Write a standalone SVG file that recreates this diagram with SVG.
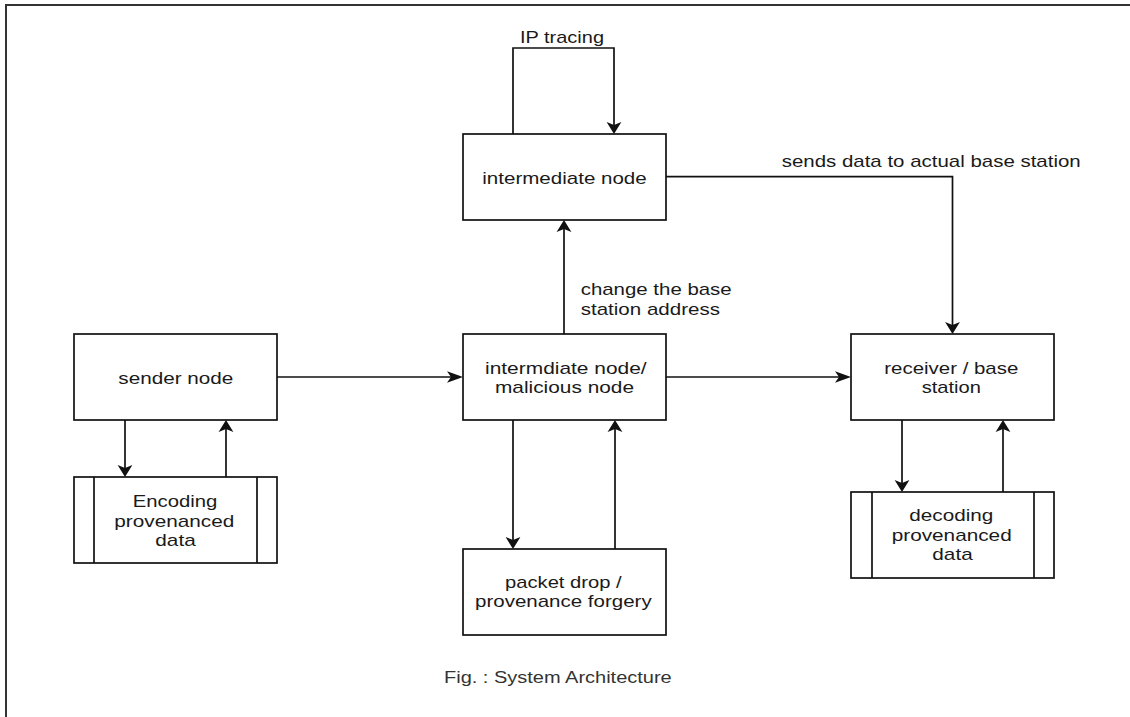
<svg xmlns="http://www.w3.org/2000/svg" width="1130" height="717" viewBox="0 0 1130 717">
<style>
.box{fill:#fff;stroke:#111;stroke-width:1.7}
.ln{fill:none;stroke:#111;stroke-width:1.7}
.t{font-family:"Liberation Sans",Arial,sans-serif;font-size:17px;fill:#1a1a1a}
.cap{font-family:"Liberation Sans",Arial,sans-serif;font-size:16px;fill:#333}
</style>
<defs>
<marker id="ah" markerUnits="userSpaceOnUse" markerWidth="16" markerHeight="12" refX="4" refY="6" orient="auto" overflow="visible">
<path d="M0,0.2 L16,6 L0,11.8 L4,6 Z" fill="#111"/>
</marker>
<marker id="av" markerUnits="userSpaceOnUse" markerWidth="12" markerHeight="15" refX="3" refY="7.4" orient="auto" overflow="visible">
<path d="M0,0 L12,7.4 L0,14.8 L3,7.4 Z" fill="#111"/>
</marker>
</defs>
<rect width="1130" height="717" fill="#fff"/>
<path d="M6,717 V5 H1130" fill="none" stroke="#333" stroke-width="2"/>

<g id="connectors">
<path class="ln" d="M277,377 H451" marker-end="url(#ah)"/>
<path class="ln" d="M666,377 H839" marker-end="url(#ah)"/>
<path class="ln" d="M564,334 V229" marker-end="url(#av)"/>
<path class="ln" d="M513,134 V48 H614 V125" marker-end="url(#av)"/>
<path class="ln" d="M666,176.7 H952.5 V325" marker-end="url(#av)"/>
<path class="ln" d="M125,420 V468" marker-end="url(#av)"/>
<path class="ln" d="M226,477 V429" marker-end="url(#av)"/>
<path class="ln" d="M513,420 V540" marker-end="url(#av)"/>
<path class="ln" d="M615,549 V429" marker-end="url(#av)"/>
<path class="ln" d="M902,420 V483" marker-end="url(#av)"/>
<path class="ln" d="M1003,492 V429" marker-end="url(#av)"/>
<text class="t" x="520" y="43.3" textLength="84" lengthAdjust="spacingAndGlyphs">IP tracing</text>
<text class="t" x="781.7" y="167.3" textLength="299" lengthAdjust="spacingAndGlyphs">sends data to actual base station</text>
<text class="t" x="580.7" y="295" textLength="151" lengthAdjust="spacingAndGlyphs">change the base</text>
<text class="t" x="580.7" y="315" textLength="139.3" lengthAdjust="spacingAndGlyphs">station address</text>
</g>

<g id="intermediate-node">
<rect class="box" x="463" y="134" width="203" height="86"/>
<text class="t" x="482.3" y="184.3" textLength="164.4" lengthAdjust="spacingAndGlyphs">intermediate node</text>
</g>

<g id="sender-node">
<rect class="box" x="74" y="334" width="203" height="86"/>
<text class="t" x="118.3" y="384" textLength="115" lengthAdjust="spacingAndGlyphs">sender node</text>
</g>

<g id="encoding">
<rect class="box" x="74" y="477" width="203" height="86"/>
<path class="ln" d="M94,477 V563 M257,477 V563"/>
<text class="t" x="132.7" y="507" textLength="84.6" lengthAdjust="spacingAndGlyphs">Encoding</text>
<text class="t" x="114.3" y="526.7" textLength="120" lengthAdjust="spacingAndGlyphs">provenanced</text>
<text class="t" x="155.3" y="546" textLength="40.4" lengthAdjust="spacingAndGlyphs">data</text>
</g>

<g id="malicious-node">
<rect class="box" x="463" y="334" width="203" height="86"/>
<text class="t" x="485" y="374" textLength="161.7" lengthAdjust="spacingAndGlyphs">intermdiate node/</text>
<text class="t" x="495" y="393.3" textLength="139" lengthAdjust="spacingAndGlyphs">malicious node</text>
</g>

<g id="receiver">
<rect class="box" x="851" y="334" width="203" height="86"/>
<text class="t" x="884.3" y="374" textLength="134" lengthAdjust="spacingAndGlyphs">receiver / base</text>
<text class="t" x="921.7" y="393.3" textLength="59.3" lengthAdjust="spacingAndGlyphs">station</text>
</g>

<g id="decoding">
<rect class="box" x="851" y="492" width="203" height="86"/>
<path class="ln" d="M872,492 V578 M1034,492 V578"/>
<text class="t" x="909.3" y="521" textLength="84" lengthAdjust="spacingAndGlyphs">decoding</text>
<text class="t" x="891.7" y="540.7" textLength="120" lengthAdjust="spacingAndGlyphs">provenanced</text>
<text class="t" x="932.3" y="560" textLength="40.4" lengthAdjust="spacingAndGlyphs">data</text>
</g>

<g id="packet-drop">
<rect class="box" x="463" y="549" width="203" height="86"/>
<text class="t" x="505" y="588.3" textLength="116.7" lengthAdjust="spacingAndGlyphs">packet drop /</text>
<text class="t" x="475" y="606.7" textLength="176.7" lengthAdjust="spacingAndGlyphs">provenance forgery</text>
</g>

<text class="cap" x="444" y="683.3" textLength="227.7" lengthAdjust="spacingAndGlyphs">Fig. : System Architecture</text>
</svg>
